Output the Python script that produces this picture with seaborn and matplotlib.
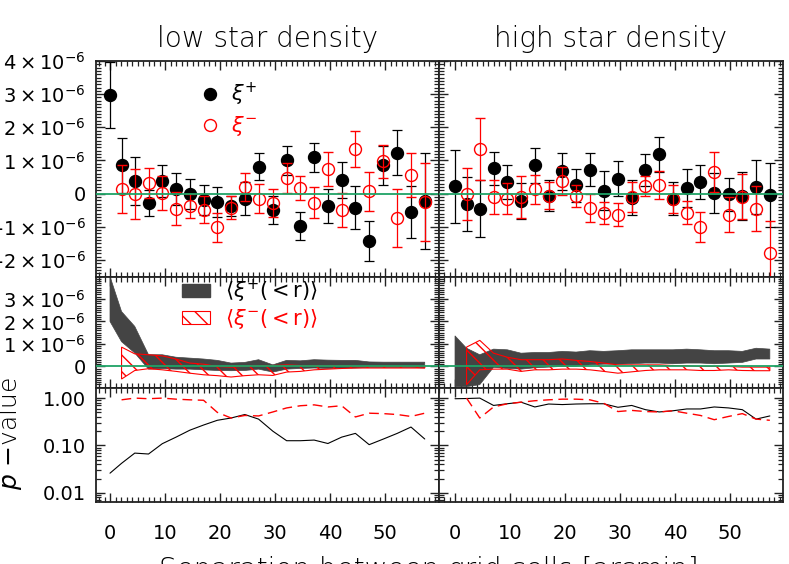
import numpy as np
import pandas as pd
import matplotlib
matplotlib.use("Agg")
import matplotlib.pyplot as plt
import seaborn as sns
from matplotlib.ticker import MultipleLocator, FixedLocator, FixedFormatter, LogLocator, NullFormatter
from matplotlib.lines import Line2D
from matplotlib.patches import Patch

# ---------------- data (xi values in units of 1e-6) ----------------
sep = [0.0, 2.1, 4.5, 7.0, 9.5, 12.0, 14.5, 17.0, 19.5, 22.0, 24.5, 27.0,
       29.6, 32.1, 34.6, 37.1, 39.6, 42.1, 44.6, 47.1, 49.7, 52.2, 54.7, 57.2]
sep_m = sep[1:]

low_xip = [2.97, 0.85, 0.38, -0.28, 0.38, 0.15, 0.0, -0.2, -0.26, -0.38, -0.15, 0.81,
           -0.5, 1.0, -0.98, 1.09, -0.38, 0.4, -0.43, -1.42, 0.85, 1.23, -0.55, -0.23]
low_xip_err = [1.0, 0.82, 0.72, 0.4, 0.48, 0.48, 0.45, 0.45, 0.45, 0.31, 0.5, 0.4,
               0.43, 0.43, 0.42, 0.45, 0.52, 0.54, 0.65, 0.6, 0.6, 0.68, 0.78, 1.45]
low_xim = [0.15, -0.02, 0.32, 0.03, -0.45, -0.37, -0.48, -1.02, -0.42, 0.2, -0.15,
           -0.28, 0.47, 0.18, -0.27, 0.75, -0.5, 1.35, 0.07, 0.97, -0.73, 0.55, -0.25]
low_xim_err = [0.72, 0.75, 0.46, 0.51, 0.49, 0.37, 0.42, 0.43, 0.36, 0.42, 0.43,
               0.43, 0.45, 0.36, 0.46, 0.52, 0.52, 0.55, 0.59, 0.5, 0.87, 0.66, 1.18]

high_xip = [0.22, -0.31, -0.45, 0.76, 0.35, -0.23, 0.85, -0.06, 0.67, 0.25, 0.72, 0.09,
            0.45, -0.13, 0.71, 1.18, -0.16, 0.18, 0.35, 0.01, -0.02, -0.07, 0.2, -0.05]
high_xip_err = [1.1, 0.82, 0.87, 0.5, 0.51, 0.54, 0.52, 0.47, 0.55, 0.5, 0.49, 0.58,
                0.53, 0.53, 0.49, 0.54, 0.5, 0.57, 0.51, 0.6, 0.49, 0.72, 0.8, 0.97]
high_xim = [-0.02, 1.35, -0.1, -0.15, -0.1, 0.13, -0.06, 0.38, -0.08, -0.43, -0.58,
            -0.63, -0.1, 0.22, 0.25, -0.16, -0.57, -1.0, 0.65, -0.63, -0.1, -0.45, -1.8]
high_xim_err = [0.79, 0.93, 0.52, 0.47, 0.64, 0.43, 0.41, 0.42, 0.33, 0.43, 0.34,
                0.34, 0.45, 0.3, 0.42, 0.43, 0.36, 0.46, 0.61, 0.53, 0.68, 0.69, 0.98]

# cumulative means <xi(<r)> : lower / upper envelope
low_cp_lo = [2.0, 1.1, 0.6, -0.12, -0.1, -0.12, -0.12, -0.15, -0.18, -0.19, -0.18, -0.12,
             -0.25, -0.12, -0.09, -0.07, -0.09, -0.07, -0.07, -0.04, -0.04, -0.04, -0.04, -0.07]
low_cp_hi = [4.0, 2.44, 1.78, 0.52, 0.52, 0.41, 0.37, 0.33, 0.27, 0.15, 0.18, 0.3,
             0.07, 0.27, 0.25, 0.3, 0.28, 0.27, 0.27, 0.2, 0.19, 0.19, 0.19, 0.19]
low_cm_lo = [-0.56, -0.18, -0.1, -0.15, -0.22, -0.3, -0.37, -0.41, -0.47, -0.41, -0.37,
             -0.4, -0.25, -0.22, -0.15, -0.12, -0.09, -0.07, -0.07, -0.07, -0.07, -0.07, -0.07]
low_cm_hi = [0.86, 0.56, 0.52, 0.47, 0.33, 0.15, 0.1, 0.0, -0.03, 0.01, 0.04, 0.04,
             0.07, 0.04, 0.03, 0.03, 0.03, 0.0, 0.0, 0.0, 0.0, 0.0, 0.0]

high_cp_lo = [-0.9, -0.9, -0.81, -0.04, -0.09, -0.12, -0.06, -0.03, 0.0, 0.01, 0.07, 0.1,
              0.1, 0.12, 0.15, 0.15, 0.12, 0.15, 0.15, 0.12, 0.15, 0.18, 0.33, 0.33]
high_cp_hi = [1.36, 0.81, 0.52, 0.77, 0.74, 0.59, 0.62, 0.62, 0.67, 0.64, 0.7, 0.67,
              0.7, 0.74, 0.74, 0.74, 0.74, 0.77, 0.74, 0.7, 0.7, 0.67, 0.81, 0.77]
high_cm_lo = [-0.81, -0.15, -0.12, -0.12, -0.22, -0.15, -0.15, -0.12, -0.12, -0.15, -0.22,
              -0.3, -0.24, -0.18, -0.15, -0.15, -0.15, -0.18, -0.18, -0.15, -0.18, -0.19, -0.19]
high_cm_hi = [0.86, 1.16, 0.59, 0.41, 0.3, 0.3, 0.3, 0.33, 0.27, 0.22, 0.15, 0.07,
              0.07, 0.07, 0.07, 0.04, 0.03, 0.0, 0.0, 0.0, -0.03, -0.03, -0.03]

# p-values
low_pp = [0.026, 0.042, 0.069, 0.066, 0.109, 0.15, 0.21, 0.27, 0.34, 0.38, 0.45, 0.36,
          0.2, 0.126, 0.126, 0.13, 0.11, 0.15, 0.18, 0.104, 0.137, 0.18, 0.245, 0.137]
low_pm = [0.92, 1.0, 0.97, 1.0, 0.95, 0.92, 0.9, 0.5, 0.38, 0.43, 0.42, 0.51,
          0.62, 0.69, 0.72, 0.65, 0.69, 0.4, 0.48, 0.47, 0.45, 0.41, 0.48]
high_pp = [0.97, 0.98, 1.0, 0.7, 0.76, 0.82, 0.65, 0.75, 0.73, 0.75, 0.76, 0.76,
           0.64, 0.7, 0.57, 0.51, 0.54, 0.59, 0.59, 0.65, 0.62, 0.57, 0.36, 0.42]
high_pm = [1.0, 0.38, 0.65, 0.76, 0.82, 0.88, 0.92, 0.95, 0.95, 0.92, 0.78, 0.52,
           0.55, 0.52, 0.51, 0.54, 0.48, 0.43, 0.35, 0.41, 0.47, 0.36, 0.34]

titles = ["low star density", "high star density"]
xlabel = "Separation between grid cells [arcmin]"
top_ticks = [-2, -1, 0, 1, 2, 3, 4]
top_labels = [r"$-2\times10^{-6}$", r"$-1\times10^{-6}$", "0", r"$1\times10^{-6}$",
              r"$2\times10^{-6}$", r"$3\times10^{-6}$", r"$4\times10^{-6}$"]
mid_ticks = [0, 1, 2, 3]
mid_labels = ["0", r"$1\times10^{-6}$", r"$2\times10^{-6}$", r"$3\times10^{-6}$"]
p_ticks = [0.01, 0.1, 1.0]
p_labels = ["0.01", "0.10", "1.00"]

# ---------------- style ----------------
sns.set_theme(style="ticks")
plt.rcParams["font.family"] = ["DejaVu Sans"]
plt.rcParams["mathtext.fontset"] = "dejavusans"
plt.rcParams["hatch.linewidth"] = 1.0
plt.rcParams["axes.unicode_minus"] = True
plt.rcParams["text.color"] = "black"
plt.rcParams["xtick.color"] = "black"
plt.rcParams["ytick.color"] = "black"

GREEN = "#1fa366"
BAND = "#444444"
TICKFS = 14
BIGFS = 20

fig = plt.figure(figsize=(7.89, 5.64), dpi=100)
W, H = 789.0, 564.0
xcols = [(95.7, 438.5), (438.5, 782.5)]
rows = [(61.0, 276.5), (276.5, 387.8), (387.8, 501.7)]
xlims = [(-2.6, 59.7), (-3.0, 59.5)]


def make_ax(c, r):
    x0, x1 = xcols[c]
    y0, y1 = rows[r]
    return fig.add_axes([x0 / W, 1 - y1 / H, (x1 - x0) / W, (y1 - y0) / H])


def style(ax):
    for s in ax.spines.values():
        s.set_linewidth(1.3)
        s.set_color("#222222")
        s.set_visible(True)
    ax.tick_params(which="both", direction="in", top=True, right=True,
                   bottom=True, left=True, colors="#222222", labelcolor="black")
    ax.tick_params(which="major", length=6.5, width=1.0, labelsize=TICKFS, pad=7)
    ax.tick_params(which="minor", length=3.5, width=0.9)
    ax.xaxis.set_major_locator(MultipleLocator(10))
    ax.xaxis.set_minor_locator(MultipleLocator(1))


def band_polygon(x, lo, hi):
    xs = list(x) + list(x)[::-1]
    ys = list(lo) + list(hi)[::-1]
    return xs, ys


datasets = [
    dict(xip=low_xip, xipe=low_xip_err, xim=low_xim, xime=low_xim_err,
         cplo=low_cp_lo, cphi=low_cp_hi, cmlo=low_cm_lo, cmhi=low_cm_hi,
         pp=low_pp, pm=low_pm),
    dict(xip=high_xip, xipe=high_xip_err, xim=high_xim, xime=high_xim_err,
         cplo=high_cp_lo, cphi=high_cp_hi, cmlo=high_cm_lo, cmhi=high_cm_hi,
         pp=high_pp, pm=high_pm),
]

for c, d in enumerate(datasets):
    # ---- top panel: xi+ and xi- points ----
    ax = make_ax(c, 0)
    style(ax)
    ax.errorbar(sep, d["xip"], yerr=d["xipe"], fmt="o", color="black", ms=8.6,
                elinewidth=0.9, capsize=3.5, capthick=0.9, zorder=3)
    ax.errorbar(sep_m, d["xim"], yerr=d["xime"], fmt="o", color="red", mfc="none",
                mec="red", mew=1.0, ms=8.6, elinewidth=0.9, capsize=3.5,
                capthick=0.9, zorder=4, clip_on=False)
    ax.axhline(0, color=GREEN, lw=1.3, zorder=5)
    ax.set_xlim(*xlims[c])
    ax.set_ylim(-2.5, 4.0)
    ax.yaxis.set_major_locator(FixedLocator(top_ticks))
    ax.yaxis.set_minor_locator(MultipleLocator(0.1))
    ax.yaxis.set_major_formatter(FixedFormatter(top_labels))
    ax.tick_params(labelbottom=False, labelleft=(c == 0))
    ax.set_title(titles[c], fontsize=BIGFS, pad=10, fontweight="light", color="black")
    if c == 0:
        h1 = Line2D([], [], marker="o", ls="none", color="black", ms=8.6)
        h2 = Line2D([], [], marker="o", ls="none", mfc="none", mec="red", mew=1.0, ms=8.6)
        leg = ax.legend([h1, h2], [r"$\xi^{+}$", r"$\xi^{-}$"], loc="upper left",
                        bbox_to_anchor=(0.303, 0.91), frameon=False, fontsize=15,
                        handlelength=1.0, handletextpad=0.5, borderpad=0,
                        borderaxespad=0, labelspacing=0.3)
        leg.get_texts()[1].set_color("red")

    # ---- middle panel: cumulative bands ----
    ax = make_ax(c, 1)
    style(ax)
    px, py = band_polygon(sep, d["cplo"], d["cphi"])
    ax.fill(px, py, facecolor=BAND, edgecolor=BAND, lw=0.5, zorder=2)
    mx, my = band_polygon(sep_m, d["cmlo"], d["cmhi"])
    ax.fill(mx, my, facecolor="none", edgecolor="red", hatch="\\\\", lw=0.8,
            zorder=3, clip_on=False)
    ax.axhline(0, color=GREEN, lw=1.3, zorder=5)
    ax.set_xlim(*xlims[c])
    ax.set_ylim(-0.95, 4.0)
    ax.yaxis.set_major_locator(FixedLocator(mid_ticks))
    ax.yaxis.set_minor_locator(MultipleLocator(0.1))
    ax.yaxis.set_major_formatter(FixedFormatter(mid_labels))
    ax.tick_params(labelbottom=False, labelleft=(c == 0))
    if c == 0:
        p1 = Patch(facecolor=BAND, edgecolor=BAND)
        p2 = Patch(facecolor="none", edgecolor="red", hatch="\\\\", lw=0.8)
        leg = ax.legend([p1, p2], [r"$\langle\xi^{+}(<\mathrm{r})\rangle$",
                                   r"$\langle\xi^{-}(<\mathrm{r})\rangle$"],
                        loc="upper left", bbox_to_anchor=(0.252, 0.99), frameon=False,
                        fontsize=15, handlelength=1.35, handleheight=0.58,
                        handletextpad=0.7, borderpad=0, borderaxespad=0,
                        labelspacing=0.1)
        leg.get_texts()[1].set_color("red")

    # ---- bottom panel: p-values ----
    ax = make_ax(c, 2)
    style(ax)
    dfp = pd.DataFrame({"sep": sep, "p": d["pp"]})
    dfm = pd.DataFrame({"sep": sep_m, "p": d["pm"]})
    sns.lineplot(data=dfp, x="sep", y="p", ax=ax, color="black", lw=0.8, sort=False)
    sns.lineplot(data=dfm, x="sep", y="p", ax=ax, color="red", lw=1.0, sort=False,
                 dashes=False).lines[-1].set_dashes((7, 4))
    ax.set_yscale("log")
    ax.set_xlim(*xlims[c])
    ax.set_ylim(0.0065, 1.65)
    ax.yaxis.set_major_locator(FixedLocator(p_ticks))
    ax.yaxis.set_major_formatter(FixedFormatter(p_labels))
    ax.yaxis.set_minor_locator(LogLocator(base=10, subs=np.arange(2, 10)))
    ax.yaxis.set_minor_formatter(NullFormatter())
    ax.tick_params(axis="x", which="major", pad=16)
    ax.tick_params(labelleft=(c == 0))
    ax.set_xlabel("")
    ax.set_ylabel("")

fig.text(429 / W, 1 - 556 / H, xlabel, ha="center", va="top", fontsize=BIGFS,
         fontweight="light", color="black")
fig.text(10 / W, 1 - 433 / H, r"$p$ $-$value", rotation=90, ha="center",
         va="center", fontsize=18, fontweight="light", color="black")

fig.savefig("out.png", dpi=100)
